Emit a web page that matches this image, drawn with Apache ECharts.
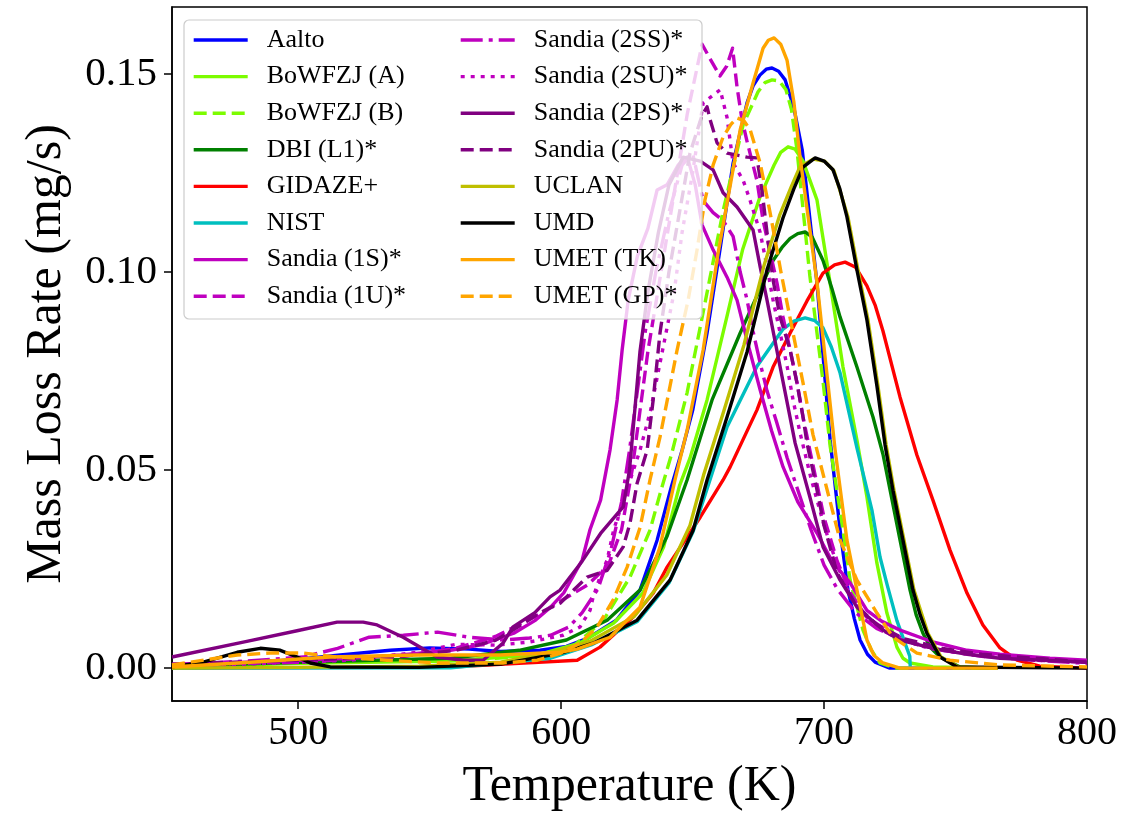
<!DOCTYPE html>
<html><head><meta charset="utf-8">
<script src="https://cdn.jsdelivr.net/npm/echarts@6/dist/echarts.min.js"></script>
<style>html,body{margin:0;padding:0;background:#fff}#c{width:1144px;height:817px}</style>
</head><body><div id="c"></div>
<script>
const xTicks = [500, 600, 700, 800];
const yTicks = [0, 0.05, 0.10, 0.15];
const xTitle = 'Temperature (K)';
const yTitle = 'Mass Loss Rate (mg/s)';
const names = ['Aalto','BoWFZJ (A)','BoWFZJ (B)','DBI (L1)*','GIDAZE+','NIST','Sandia (1S)*','Sandia (1U)*',
  'Sandia (2SS)*','Sandia (2SU)*','Sandia (2PS)*','Sandia (2PU)*','UCLAN','UMD','UMET (TK)','UMET (GP)*'];

const aalto = [[452,0.0003],[482,0.0013],[501,0.0023],[516,0.0033],[535,0.0045],[550,0.0051],[565,0.0048],[577,0.0042],[592,0.0045],[602,0.0055],[610,0.0075],[621,0.0121],[630,0.0197],[636.5,0.0323],[642,0.046],[646,0.055],[650,0.065],[655.5,0.0846],[660.4,0.1056],[665.4,0.1275],[670.7,0.1427],[673,0.147],[675.6,0.1497],[678,0.1512],[680.2,0.1515],[682.7,0.1507],[685.2,0.1485],[688.5,0.1415],[691.7,0.1308],[697.3,0.0972],[702.3,0.0576],[706.1,0.0348],[709.1,0.0197],[711.5,0.0125],[713.7,0.0071],[716.5,0.0035],[719.4,0.0015],[725,0],[766,0]];
const bowA = [[452,0.0003],[501,0.0012],[558,0.0018],[592,0.0035],[607,0.0063],[620,0.0114],[631,0.0189],[639,0.0306],[645,0.046],[649,0.053],[655.5,0.0677],[663,0.0886],[669,0.1056],[675.6,0.1189],[681,0.127],[683.5,0.1302],[686.3,0.1316],[689,0.131],[692,0.128],[697.3,0.1182],[702.3,0.0972],[707.2,0.076],[712.5,0.0576],[716.3,0.0432],[720.1,0.0265],[723.9,0.0139],[727.7,0.0053],[730,0.0025],[732.7,0.0013],[741.4,0.0003],[766,0]];
const bowB = [[452,0.0003],[501,0.0015],[558,0.002],[592,0.003],[604.6,0.0055],[616,0.012],[626.2,0.023],[633.8,0.0348],[637.6,0.044],[642,0.054],[647.9,0.0695],[652.9,0.0861],[656.6,0.0985],[661.6,0.1154],[669.2,0.1371],[674.9,0.1455],[677.5,0.1478],[680.2,0.1485],[683,0.1482],[685.5,0.146],[687.6,0.141],[689.7,0.1308],[694.6,0.099],[699.6,0.0724],[702.3,0.0561],[707.2,0.0348],[709.9,0.0222],[714.8,0.0096],[718,0.0045],[721.3,0.0013],[727,0],[766,0]];
const dbi = [[452,0.0005],[501,0.0015],[558,0.0025],[584,0.0045],[602,0.0071],[617.5,0.0121],[630,0.0197],[640.3,0.0333],[647.9,0.0475],[657.4,0.0677],[668.1,0.0846],[680.6,0.1029],[684,0.1062],[687.1,0.1085],[690,0.1097],[692.8,0.1101],[695.5,0.1088],[699.6,0.1029],[703,0.0958],[706.1,0.0886],[712.5,0.076],[718.6,0.0634],[722.4,0.054],[725.1,0.045],[728.9,0.0323],[732.7,0.0197],[735,0.0135],[737.6,0.0088],[740.5,0.0052],[744.1,0.0028],[751.7,0.0003],[763,0]];
const gidaze = [[452,0],[558,0.0003],[584,0.0012],[606.1,0.002],[614.8,0.0053],[627.4,0.0129],[635,0.0189],[640.3,0.0255],[652.9,0.0381],[661.6,0.0475],[664.3,0.0508],[674.5,0.0652],[680.6,0.076],[687.1,0.0846],[693.5,0.0927],[699.6,0.0997],[704,0.1018],[708,0.1025],[712,0.1012],[716.3,0.0965],[719.5,0.0915],[722.4,0.0851],[728.9,0.0684],[735.3,0.0538],[741.4,0.0424],[747.9,0.0298],[754.4,0.0189],[760.4,0.0109],[766.9,0.0051],[773.4,0.002],[782.1,0.0005],[800,0]];
const nist = [[452,0],[558,0.0001],[596,0.0025],[612,0.006],[629,0.0118],[641,0.0215],[650.2,0.0345],[656.6,0.0475],[663.1,0.0609],[674.5,0.0762],[684.4,0.0856],[688.5,0.0876],[692.8,0.0884],[696.5,0.0877],[699.6,0.0859],[702.8,0.081],[706.1,0.0745],[712.5,0.0556],[718.2,0.0399],[721.3,0.028],[724,0.021],[727.7,0.012],[731.5,0.005],[732.6,0.003],[732.8,0]];
const s1S = [[452,0.001],[480,0.0015],[500,0.002],[520,0.0025],[539,0.0033],[558,0.0045],[569,0.0058],[582,0.0088],[590,0.012],[596,0.0154],[601,0.019],[608,0.0273],[611,0.035],[615,0.0424],[618.6,0.0551],[621.3,0.0677],[623.2,0.0803],[625.5,0.0929],[629,0.104],[633,0.111],[636.5,0.1207],[640.3,0.122],[644.5,0.127],[648,0.129],[651,0.122],[653.6,0.1119],[657.8,0.1056],[663.1,0.0987],[666.9,0.0929],[671,0.082],[675.7,0.0702],[680,0.06],[684.4,0.0508],[690,0.042],[697.3,0.0341],[703,0.027],[709.9,0.0215],[716.3,0.0146],[722,0.0118],[728.9,0.0096],[741.4,0.0066],[754.4,0.0045],[766.9,0.0035],[785.9,0.0025],[800,0.002]];
const s1U = [[452,0.0008],[500,0.0015],[540,0.003],[560,0.005],[575,0.008],[590,0.013],[600,0.017],[610,0.021],[618,0.026],[623,0.035],[627,0.05],[630,0.065],[633,0.08],[638,0.1],[643,0.12],[648,0.14],[653.6,0.1575],[656.5,0.154],[660.4,0.1495],[663,0.152],[665.2,0.1565],[666.9,0.1467],[668.8,0.1384],[670.7,0.133],[674.5,0.123],[676.8,0.113],[679.5,0.105],[682.1,0.0972],[684.4,0.0886],[687.1,0.0803],[689.7,0.072],[692,0.0634],[694.6,0.055],[700,0.038],[705,0.027],[710,0.019],[716,0.013],[725,0.009],[735,0.006],[750,0.004],[770,0.0025],[800,0.0015]];
const s2SS = [[452,0.0008],[480,0.0018],[502,0.0028],[515,0.005],[527,0.0078],[540,0.0083],[553,0.0091],[565,0.0078],[578,0.0071],[588,0.0076],[596,0.0083],[603,0.0104],[608,0.014],[614,0.02],[619,0.03],[623,0.042],[626,0.055],[629,0.07],[632,0.085],[636,0.1],[641,0.115],[646,0.127],[650,0.13],[654,0.118],[657.8,0.115],[661.6,0.113],[665.4,0.109],[668.1,0.1],[670.7,0.093],[673,0.085],[675.7,0.077],[678.3,0.07],[682,0.062],[686,0.053],[690,0.045],[695,0.035],[700,0.026],[705,0.02],[712,0.014],[720,0.01],[730,0.007],[745,0.0045],[760,0.003],[780,0.002],[800,0.0012]];
const s2SU = [[452,0.0005],[480,0.001],[520,0.002],[545,0.004],[560,0.006],[575.7,0.0058],[588,0.0066],[600.8,0.0083],[607.2,0.0104],[611,0.0146],[612.2,0.018],[614.8,0.023],[617.5,0.0273],[620,0.035],[625,0.045],[630,0.055],[634,0.065],[637,0.075],[640,0.085],[643,0.095],[646,0.11],[650,0.125],[654,0.1427],[660.5,0.146],[663.1,0.139],[665.4,0.1275],[669.2,0.1232],[671.9,0.118],[675.7,0.11],[678.3,0.1013],[680.6,0.0929],[683.3,0.0846],[686,0.076],[688.2,0.0677],[690.9,0.0593],[695,0.048],[700,0.036],[705,0.026],[710,0.018],[718,0.011],[728,0.0075],[740,0.005],[760,0.003],[780,0.002],[800,0.0015]];
const s2PS = [[452,0.0028],[480,0.0067],[500,0.0095],[514.8,0.0116],[524.7,0.0116],[530,0.0109],[539.9,0.0078],[552.8,0.0028],[562.7,0.002],[570.3,0.002],[577.9,0.0063],[581.7,0.0104],[590,0.014],[595.8,0.018],[599.6,0.0197],[608,0.027],[615,0.034],[623.6,0.0407],[626,0.05],[628,0.065],[630,0.08],[633,0.095],[637,0.11],[641,0.122],[646.4,0.129],[652.9,0.128],[657.8,0.1258],[661.6,0.12],[666.9,0.1164],[673,0.1106],[675.7,0.1013],[678.3,0.0929],[683.3,0.076],[689,0.0568],[694.6,0.0432],[699.6,0.0306],[706.1,0.0222],[712.5,0.0154],[722.4,0.0096],[728.9,0.0071],[741.4,0.005],[754.4,0.0035],[766.9,0.0025],[800,0.0015]];
const s2PU = [[452,0.001],[500,0.002],[540,0.003],[560,0.0045],[575,0.007],[585,0.011],[592,0.014],[599.6,0.0164],[609.9,0.023],[617.5,0.0247],[623.6,0.0306],[626.2,0.0366],[628.9,0.0467],[632.7,0.055],[635,0.0677],[637.6,0.0846],[641,0.1],[645,0.115],[649,0.13],[653.6,0.1396],[655.5,0.1417],[656.7,0.1384],[659.3,0.1326],[663.1,0.13],[670.7,0.129],[674.5,0.1288],[676.5,0.12],[678.3,0.11],[680.6,0.098],[683.3,0.0886],[687.1,0.0803],[689.7,0.072],[692,0.0634],[693.5,0.0568],[697,0.046],[700,0.036],[705,0.024],[712,0.016],[720,0.011],[730,0.0075],[745,0.005],[760,0.0035],[780,0.0025],[800,0.0015]];
const uclan = [[452,0],[500,0.0002],[546,0.0005],[577,0.0015],[599,0.0045],[611,0.0068],[627.7,0.013],[640.2,0.0235],[649,0.036],[654.3,0.049],[661.9,0.065],[669.5,0.0815],[677.1,0.1015],[683.2,0.1145],[687.5,0.1215],[690.8,0.1265],[695.8,0.1285],[700.2,0.128],[703.8,0.1255],[709.1,0.1138],[712.9,0.1005],[716.7,0.0879],[720.5,0.0712],[723.6,0.0563],[726.6,0.0449],[730.4,0.0323],[734.2,0.0197],[739.5,0.0088],[744.5,0.0028],[751,0.0003],[766,0]];
const umd = [[452,0.0003],[463.9,0.0015],[476.8,0.004],[485.6,0.005],[493.2,0.0045],[499.6,0.0028],[504.6,0.0013],[512.2,0.0003],[546,0.0002],[577,0.001],[600,0.0038],[612.2,0.0063],[628.9,0.0121],[641.4,0.0222],[650.2,0.0348],[655.5,0.0475],[663.1,0.0634],[670.7,0.0798],[678.3,0.1005],[684.4,0.1137],[688.5,0.121],[692,0.1265],[696.6,0.1288],[700,0.128],[703.4,0.1258],[706,0.121],[708.7,0.1139],[712.5,0.1005],[716.3,0.0879],[720.1,0.0712],[723.2,0.0563],[726.2,0.0449],[730,0.0323],[733.8,0.0197],[736.5,0.0135],[739.1,0.0088],[744.1,0.0028],[750.6,0.0003],[800,0]];
const umetTK = [[452,0.0003],[481.7,0.0015],[512.2,0.0028],[546.4,0.0033],[576.8,0.0033],[599.6,0.004],[606.1,0.0048],[618.6,0.0078],[630,0.0154],[637.6,0.0306],[643.3,0.0475],[647.9,0.06],[654,0.0803],[659.7,0.1048],[668.1,0.1359],[673,0.1477],[676.8,0.1565],[678.8,0.1585],[681,0.1591],[683.5,0.1575],[685.9,0.1535],[688.5,0.143],[690.9,0.1288],[697.3,0.0975],[704.2,0.0551],[708.7,0.0323],[712.5,0.0197],[716.3,0.0071],[719,0.0032],[722.4,0.0013],[728.9,0],[766,0]];
const umetGP = [[452,0.0008],[476.8,0.0033],[489.4,0.0038],[501.9,0.0038],[514.8,0.0028],[533.8,0.002],[552.8,0.0013],[577.9,0.0013],[590.9,0.002],[600,0.0038],[607.2,0.0063],[613.7,0.0104],[619.8,0.0172],[625.1,0.0255],[630,0.0355],[633.8,0.0475],[637.6,0.0583],[644.1,0.0803],[648.3,0.0929],[651.7,0.1056],[654.7,0.1182],[657.8,0.127],[661.6,0.1341],[664.5,0.1372],[666.9,0.1389],[669.5,0.1382],[671.9,0.1359],[675.7,0.1275],[679.5,0.1149],[683.6,0.1],[688.2,0.0846],[692,0.072],[695.8,0.0589],[701.2,0.0449],[706.1,0.0323],[712.5,0.0222],[720.1,0.0139],[726.2,0.0078],[735.3,0.0038],[747.9,0.002],[766.9,0.0008],[800,0.0003]];

const seriesData = [aalto,bowA,bowB,dbi,gidaze,nist,s1S,s1U,s2SS,s2SU,s2PS,s2PU,uclan,umd,umetTK,umetGP];
const DASH = [13,6], DOT = [4,6], DASHDOT = [22,6,4,6];
const styles = [
  ['#0000ff','solid'],['#7cfc00','solid'],['#7cfc00',DASH],['#008000','solid'],['#ff0000','solid'],['#00bfbf','solid'],
  ['#bf00bf','solid'],['#bf00bf',DASH],['#bf00bf',DASHDOT],['#bf00bf',DOT],['#800080','solid'],['#800080',DASH],
  ['#bfbf00','solid'],['#000000','solid'],['#ffa500','solid'],['#ffa500',DASH]
];

const FONT = 'Liberation Serif';
const LW = 3.4;
const series = names.map((n, i) => ({
  name: n, type: 'line', data: seriesData[i], symbol: 'none', showSymbol: false,
  smooth: false, clip: true,
  lineStyle: {color: styles[i][0], width: LW, type: styles[i][1], cap: 'butt', join: 'round'},
  itemStyle: {color: styles[i][0]},
  z: 2
}));

const legendCommon = {
  orient: 'vertical', itemWidth: 54, itemHeight: 26, itemGap: 10.6, padding: 0,
  selectedMode: false, z: 5,
  itemStyle: {opacity: 0, borderWidth: 0},
  lineStyle: {width: LW},
  textStyle: {fontFamily: FONT, fontSize: 26, color: '#000', lineHeight: 26, padding: [0,0,0,14]}
};

const chart = echarts.init(document.getElementById('c'), null, {renderer: 'canvas'});
chart.setOption({
  animation: false,
  backgroundColor: '#fff',
  grid: {left: 172, right: 57, top: 7, bottom: 116, show: true, borderColor: '#000', borderWidth: 1.5, backgroundColor: 'transparent'},
  xAxis: {
    type: 'value', min: 452, max: 800,
    name: xTitle, nameLocation: 'middle', nameGap: 61,
    nameTextStyle: {fontFamily: FONT, fontSize: 50, color: '#000'},
    axisLine: {show: true, onZero: false, lineStyle: {color: '#000', width: 1.5}},
    axisTick: {show: true, inside: false, length: 8, customValues: xTicks, lineStyle: {color: '#000', width: 1.5}},
    axisLabel: {customValues: xTicks, margin: 12, fontFamily: FONT, fontSize: 40, color: '#000'},
    splitLine: {show: false}
  },
  yAxis: {
    type: 'value', min: -0.0083, max: 0.1669,
    name: yTitle, nameLocation: 'middle', nameGap: 100,
    nameTextStyle: {fontFamily: FONT, fontSize: 50, color: '#000'},
    axisLine: {show: true, onZero: false, lineStyle: {color: '#000', width: 1.5}},
    axisTick: {show: true, inside: false, length: 8, customValues: yTicks, lineStyle: {color: '#000', width: 1.5}},
    axisLabel: {customValues: yTicks, margin: 15, fontFamily: FONT, fontSize: 41, color: '#000',
      formatter: v => v.toFixed(2)},
    splitLine: {show: false}
  },
  graphic: {elements: [{
    type: 'rect', z: 3, silent: true,
    shape: {x: 184, y: 20, width: 518, height: 299, r: 5},
    style: {fill: 'rgba(255,255,255,0.8)', stroke: '#cccccc', lineWidth: 1.2}
  }]},
  legend: [
    Object.assign({}, legendCommon, {left: 192, top: 27, data: names.slice(0, 8)}),
    Object.assign({}, legendCommon, {left: 459, top: 27, data: names.slice(8)})
  ],
  series: series
});
</script>
</body></html>
